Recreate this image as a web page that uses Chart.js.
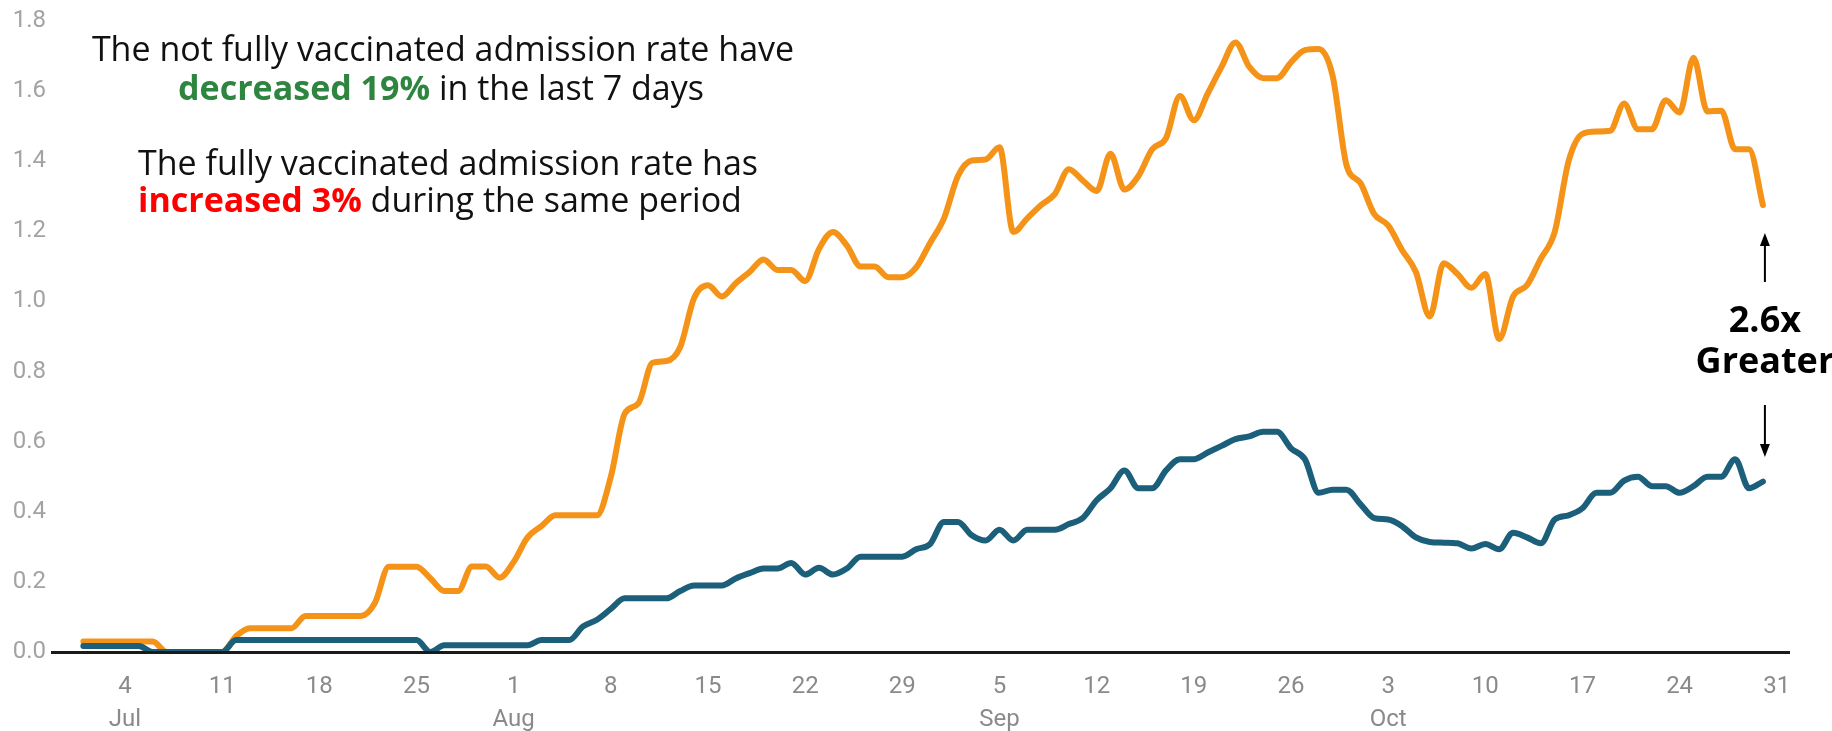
<!DOCTYPE html>
<html lang="en">
  <head>
    <meta charset="UTF-8" />
    <title>Admission rate by vaccination status</title>
    <style>
      * {
        margin: 0;
        padding: 0;
        box-sizing: border-box;
      }
      body {
        background: #ffffff;
        width: 1832px;
        height: 731px;
        overflow: hidden;
      }
    </style>
  </head>
  <body>
    <canvas id="myChart" width="1832" height="731"></canvas>

    <script src="https://cdn.jsdelivr.net/npm/chart.js"></script>

    <script>
      // daily values, 1 Jul -> 30 Oct (one row per week)
      const notFullyVaccinated = [
        0.03, 0.03, 0.03, 0.03, 0.03, 0.03, 0,
        0, 0, 0, 0, 0.045, 0.068, 0.068,
        0.068, 0.068, 0.103, 0.103, 0.103, 0.103, 0.103,
        0.14, 0.243, 0.243, 0.243, 0.21, 0.174, 0.174,
        0.244, 0.244, 0.212, 0.257, 0.327, 0.359, 0.39,
        0.39, 0.39, 0.39, 0.5, 0.68, 0.71, 0.825,
        0.83, 0.87, 1.01, 1.046, 1.014, 1.052, 1.084,
        1.12, 1.09, 1.09, 1.058, 1.15, 1.198, 1.16,
        1.1, 1.1, 1.069, 1.069, 1.097, 1.167, 1.237,
        1.357, 1.402, 1.405, 1.44, 1.198, 1.237, 1.275,
        1.307, 1.377, 1.345, 1.315, 1.421, 1.319, 1.357,
        1.434, 1.466, 1.586, 1.517, 1.593, 1.669, 1.739,
        1.669, 1.637, 1.637, 1.682, 1.717, 1.72, 1.644,
        1.389, 1.338, 1.249, 1.217, 1.147, 1.084, 0.957,
        1.109, 1.078, 1.039, 1.078, 0.893, 1.014, 1.046,
        1.122, 1.198, 1.4, 1.478, 1.485, 1.487, 1.565,
        1.491, 1.491, 1.574, 1.539, 1.695, 1.542, 1.544,
        1.434, 1.434, 1.275,
      ];

      const fullyVaccinated = [
        0.017, 0.017, 0.017, 0.017, 0.017, 0, 0,
        0, 0, 0, 0, 0.034, 0.034, 0.034,
        0.034, 0.034, 0.034, 0.034, 0.034, 0.034, 0.034,
        0.034, 0.034, 0.034, 0.034, 0, 0.019, 0.019,
        0.019, 0.019, 0.019, 0.019, 0.019, 0.034, 0.034,
        0.034, 0.073, 0.092, 0.123, 0.153, 0.153, 0.153,
        0.153, 0.174, 0.19, 0.19, 0.19, 0.21, 0.225,
        0.238, 0.238, 0.254, 0.221, 0.24, 0.221, 0.238,
        0.272, 0.272, 0.272, 0.272, 0.293, 0.308, 0.371,
        0.371, 0.333, 0.318, 0.349, 0.318, 0.349, 0.349,
        0.349, 0.365, 0.382, 0.433, 0.467, 0.518, 0.467,
        0.467, 0.518, 0.55, 0.55, 0.569, 0.588, 0.607,
        0.615, 0.628, 0.628, 0.581, 0.55, 0.454, 0.463,
        0.463, 0.422, 0.382, 0.378, 0.359, 0.327, 0.314,
        0.312, 0.31, 0.295, 0.308, 0.293, 0.34, 0.327,
        0.31, 0.378, 0.39, 0.41, 0.454, 0.454, 0.489,
        0.5, 0.473, 0.473, 0.454, 0.473, 0.5, 0.5,
        0.55, 0.467, 0.486,
      ];

      // x axis ticks: days counted from 1 Jul
      const tickDays = [3, 10, 17, 24, 31, 38, 45, 52, 59, 66, 73, 80, 87, 94, 101, 108, 115, 122];
      const tickDayLabels = ["4", "11", "18", "25", "1", "8", "15", "22", "29", "5", "12", "19", "26", "3", "10", "17", "24", "31"];
      const tickMonthLabels = ["Jul", "", "", "", "Aug", "", "", "", "", "Sep", "", "", "", "Oct", "", "", "", ""];
      const yTicks = [0, 0.2, 0.4, 0.6, 0.8, 1.0, 1.2, 1.4, 1.6, 1.8];

      const dayIndex = notFullyVaccinated.map((v, i) => i);

      const orange = "#f59318";
      const teal = "#1b5f7a";

      const data = {
        labels: dayIndex,
        datasets: [
          {
            label: "Fully vaccinated",
            data: fullyVaccinated,
            borderColor: teal,
            borderWidth: 6,
            pointRadius: 0,
            cubicInterpolationMode: "monotone",
            borderCapStyle: "round",
            borderJoinStyle: "round",
          },
          {
            label: "Not fully vaccinated",
            data: notFullyVaccinated,
            borderColor: orange,
            borderWidth: 6,
            pointRadius: 0,
            cubicInterpolationMode: "monotone",
            borderCapStyle: "round",
            borderJoinStyle: "round",
          },
        ],
      };

      function drawRuns(ctx, runs, cx, cy) {
        let total = 0;
        runs.forEach((r) => {
          ctx.font = r.font;
          total += ctx.measureText(r.text).width;
        });
        let x = cx - total / 2;
        runs.forEach((r) => {
          ctx.font = r.font;
          ctx.fillStyle = r.color;
          ctx.fillText(r.text, x, cy);
          x += ctx.measureText(r.text).width;
        });
      }

      const annotations = {
        id: "annotations",
        afterDraw(chart) {
          const { ctx, scales } = chart;
          const regular = "400 34px 'Open Sans'";
          const bold = "700 34px 'Open Sans'";
          ctx.save();
          ctx.textBaseline = "middle";

          drawRuns(ctx, [{ text: "The not fully vaccinated admission rate have", font: regular, color: "#111" }], 443, 51);
          drawRuns(ctx, [
            { text: "decreased 19%", font: bold, color: "#2e8540" },
            { text: " in the last 7 days", font: regular, color: "#111" },
          ], 441, 90);
          drawRuns(ctx, [{ text: "The fully vaccinated admission rate has", font: regular, color: "#111" }], 448, 165);
          drawRuns(ctx, [
            { text: "increased 3%", font: bold, color: "#ff0000" },
            { text: " during the same period", font: regular, color: "#111" },
          ], 440, 202);

          // ratio callout at the last day
          const lastDay = dayIndex[dayIndex.length - 1];
          const ax = scales.x.getPixelForValue(lastDay) + 2;
          ctx.textAlign = "center";
          ctx.fillStyle = "#000";
          ctx.font = "700 36px 'Open Sans'";
          ctx.fillText("2.6x", ax, 322);
          ctx.fillText("Greater", ax, 363);

          ctx.strokeStyle = "#000";
          ctx.lineWidth = 2;
          ctx.beginPath();
          ctx.moveTo(ax, 282);
          ctx.lineTo(ax, 240);
          ctx.moveTo(ax, 405);
          ctx.lineTo(ax, 450);
          ctx.stroke();
          ctx.beginPath();
          ctx.moveTo(ax, 233);
          ctx.lineTo(ax - 5, 246);
          ctx.lineTo(ax + 5, 246);
          ctx.closePath();
          ctx.moveTo(ax, 457);
          ctx.lineTo(ax - 5, 444);
          ctx.lineTo(ax + 5, 444);
          ctx.closePath();
          ctx.fill();
          ctx.restore();
        },
      };

      const config = {
        type: "line",
        data: data,
        options: {
          responsive: false,
          animation: false,
          devicePixelRatio: 1,
          layout: {
            padding: { top: 21, right: 43, left: 0, bottom: 0 },
          },
          plugins: {
            legend: { display: false },
            tooltip: { enabled: false },
          },
          scales: {
            x: {
              type: "linear",
              min: -2.26,
              max: 122.88,
              grid: { display: false, drawTicks: false },
              border: { display: true, color: "#1a1a1a", width: 3, z: 1 },
              afterBuildTicks: (scale) => {
                scale.ticks = tickDays.map((d) => ({ value: d }));
              },
              afterFit: (scale) => {
                scale.height = 79;
              },
              ticks: {
                padding: 19,
                color: "#8a8a8a",
                maxRotation: 0,
                autoSkip: false,
                font: { family: "Roboto", size: 24, lineHeight: 1.36 },
                callback: (value, index) => {
                  const i = tickDays.indexOf(value);
                  if (i < 0) return "";
                  return tickMonthLabels[i]
                    ? [tickDayLabels[i], tickMonthLabels[i]]
                    : tickDayLabels[i];
                },
              },
            },
            y: {
              min: 0,
              max: 1.8,
              grid: { display: false, drawTicks: false },
              border: { display: false },
              afterBuildTicks: (scale) => {
                scale.ticks = yTicks.map((v) => ({ value: v }));
              },
              afterFit: (scale) => {
                scale.width = 52;
              },
              ticks: {
                padding: 6,
                color: "#a3a3a3",
                font: { family: "Roboto", size: 24 },
                callback: (value) => Number(value).toFixed(1),
              },
            },
          },
        },
        plugins: [annotations],
      };

      const myChart = new Chart(document.getElementById("myChart"), config);
    </script>
  </body>
</html>
